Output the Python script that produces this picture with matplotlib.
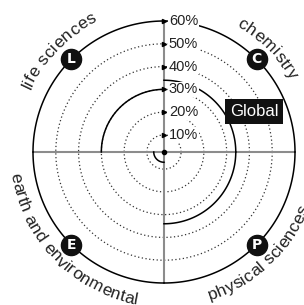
import numpy as np
import matplotlib.pyplot as plt
from matplotlib.font_manager import FontProperties, findfont, get_font

# quadrant categories (counter-clockwise from east)
categories = ['chemistry', 'life sciences', 'earth and environmental', 'physical sciences']
letters = ['C', 'L', 'E', 'P']
outer_values = [60, 60, 60, 60]
global_values = [34, 30, 7, 34]
ring_values = [10, 20, 30, 40, 50]
tick_values = [10, 20, 30, 40, 50, 60]
tick_labels = ['10%', '20%', '30%', '40%', '50%', '60%']

rmin, rmax = 2.5, 60

fig = plt.figure(figsize=(3.04, 3.05), dpi=100)
ax = fig.add_axes([33 / 304, 22 / 305, 262 / 304, 262 / 305], projection='polar')
ax.set_ylim(rmin, rmax)
ax.set_xticks([])
ax.set_yticks([])
ax.grid(False)
ax.spines['polar'].set_visible(False)

full = np.linspace(0, 2 * np.pi, 500)

# dotted rings
for v in ring_values:
    ax.plot(full, np.full_like(full, v), ls=(0, (1, 2)), lw=0.9, color='#333333', zorder=1)

# axis cross
ax.plot([0, 0, np.pi, np.pi], [rmax, rmin, rmin, rmax], color='#8c8c8c', lw=1.5, zorder=2)
ax.plot([np.pi / 2, np.pi / 2, 3 * np.pi / 2, 3 * np.pi / 2], [rmax, rmin, rmin, rmax],
        color='#8c8c8c', lw=1.5, zorder=2)
ax.plot([0], [rmin], 'o', color='black', ms=3, zorder=5)

# outer arcs and global arcs per quadrant
for i in range(4):
    th = np.linspace(i * np.pi / 2, (i + 1) * np.pi / 2, 120)
    ax.plot(th, np.full_like(th, outer_values[i]), color='black', lw=1.1, zorder=3, clip_on=False)
    ax.plot(th, np.full_like(th, global_values[i]), color='black', lw=1.1, zorder=3)

# tick labels on the vertical axis
for v, lab in zip(tick_values, tick_labels):
    ax.plot([np.pi / 2], [v], marker='>', ms=3, color='black', zorder=6, clip_on=False)
    ax.annotate(lab, (np.pi / 2, v), xytext=(3.5, 0), textcoords='offset points',
                ha='left', va='center', fontsize=10.5, family='Liberation Sans', color='#222222',
                zorder=7, bbox=dict(facecolor='white', edgecolor='none', pad=0.5))

# quadrant markers
for i in range(4):
    ang = (i + 0.5) * np.pi / 2
    ax.plot([ang], [outer_values[i]], 'o', ms=14.5, color='#111111', zorder=8, clip_on=False)
    ax.text(ang, outer_values[i], letters[i], ha='center', va='center', color='white',
            fontsize=10, fontweight='bold', zorder=9)

# curved category labels
fig.canvas.draw()
R_px = ax.get_window_extent().width / 2
px_per_unit = R_px / (rmax - rmin)
fp = FontProperties(family='Liberation Sans', size=12.5)
font = get_font(findfont(fp))
font.set_size(12.5, fig.dpi)


def curved(text, center_deg, base_px, top=True, track=1.04):
    advs = [font.load_char(ord(c)).linearHoriAdvance / 65536 * track for c in text]
    total = sum(advs)
    r = rmin + base_px / px_per_unit
    cum = 0
    for c, a in zip(text, advs):
        off = (cum + a / 2 - total / 2) / base_px
        cum += a
        if top:
            ang = np.deg2rad(center_deg) - off
            rot = np.rad2deg(ang) - 90
        else:
            ang = np.deg2rad(center_deg) + off
            rot = np.rad2deg(ang) + 90
        ax.text(ang, r, c, fontproperties=fp, ha='center', va='baseline',
                rotation=rot, rotation_mode='anchor', color='#222222', clip_on=False)


curved(categories[0], 45, 145, top=True)
curved(categories[1], 136, 147, top=True)
curved(categories[2], 224, 155, top=False)
curved(categories[3], 313, 155, top=False)

# Global label
ax.text(0.8435, 0.6546, 'Global', transform=ax.transAxes, ha='center', va='center',
        fontsize=12, family='Liberation Sans', color='white', zorder=10,
        bbox=dict(boxstyle='square,pad=0.28', facecolor='#111111', edgecolor='none'))

fig.savefig('out.png', dpi=100)
